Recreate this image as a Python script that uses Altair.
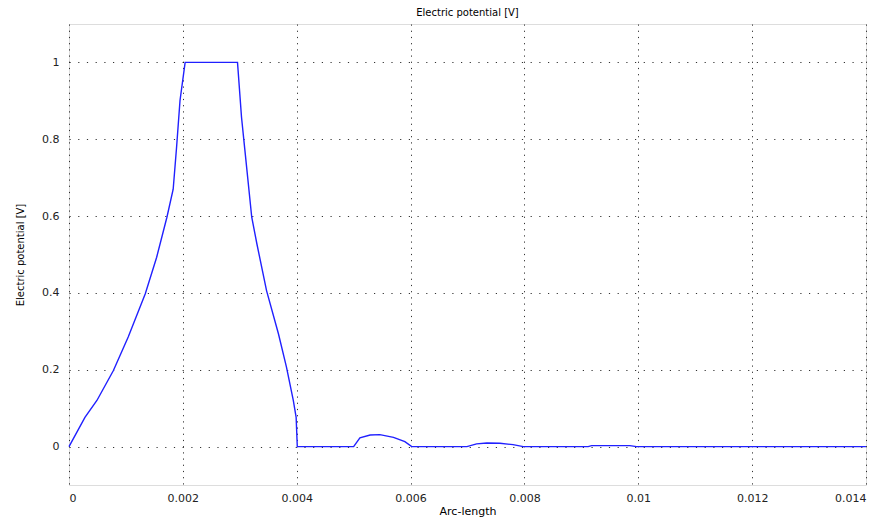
import altair as alt
import pandas as pd

arc_length = [0.0, 0.00028, 0.00049, 0.00078, 0.00104, 0.00134, 0.00154, 0.00172, 0.00183,
              0.00189, 0.00195, 0.00204, 0.00296, 0.00303, 0.00309, 0.00321, 0.0033, 0.00347,
              0.00368, 0.00382, 0.00394, 0.00399, 0.00401, 0.005, 0.00511, 0.00529, 0.00546,
              0.0057, 0.0059, 0.00602, 0.00699, 0.00716, 0.00734, 0.00757, 0.0078, 0.00798,
              0.00912, 0.00918, 0.00985, 0.00997, 0.014]
potential = [0.0, 0.076, 0.12, 0.198, 0.285, 0.398, 0.493, 0.597, 0.67,
             0.78, 0.901, 1.0, 1.0, 0.858, 0.771, 0.597, 0.528, 0.406,
             0.293, 0.207, 0.12, 0.076, 0.0, 0.0, 0.023, 0.030, 0.031,
             0.024, 0.013, 0.0, 0.0, 0.007, 0.0095, 0.0087, 0.005, 0.0,
             0.0, 0.0026, 0.0026, 0.0, 0.0]
x_ticks = [0, 0.002, 0.004, 0.006, 0.008, 0.01, 0.012, 0.014]
y_ticks = [0, 0.2, 0.4, 0.6, 0.8, 1]

df = pd.DataFrame({"s": arc_length, "v": potential})

FONT = "DejaVu Sans"

chart = alt.Chart(df).mark_line(color="#2020ff", strokeWidth=1.4).encode(
    x=alt.X("s:Q", scale=alt.Scale(domain=[0, 0.014], nice=False, zero=False),
            axis=alt.Axis(values=x_ticks, title="Arc-length", format="~g",
                          grid=True, gridColor="#000", gridDash=[1.2, 5], gridWidth=1,
                          gridOpacity=0.8,
                          ticks=False, domain=False, labelPadding=7,
                          labelFontSize=11, labelFont=FONT, labelColor="#222",
                          titleFont=FONT, titleFontSize=11, titleFontWeight="normal",
                          titleColor="#000", titlePadding=2)),
    y=alt.Y("v:Q", scale=alt.Scale(domain=[-0.1, 1.1], nice=False, zero=False),
            axis=alt.Axis(values=y_ticks, title="Electric potential [V]", format="~g",
                          grid=True, gridColor="#000", gridDash=[1.2, 7.5], gridWidth=1,
                          gridOpacity=0.8,
                          ticks=False, domain=False, labelPadding=10,
                          labelFontSize=11, labelFont=FONT, labelColor="#222",
                          titleFont=FONT, titleFontSize=10, titleFontWeight="normal",
                          titleColor="#000", titlePadding=16)),
).properties(
    width=797, height=461,
    title=alt.TitleParams("Electric potential [V]", font=FONT, fontSize=10,
                          fontWeight="normal", color="#000", offset=6),
    autosize=alt.AutoSizeParams(type="none"),
    padding={"left": 69, "top": 24, "right": 17, "bottom": 40},
).configure_view(stroke="#222", strokeWidth=1.5).configure(background="white")

chart.save("out.html", embed_options={"renderer": "svg", "actions": False})
